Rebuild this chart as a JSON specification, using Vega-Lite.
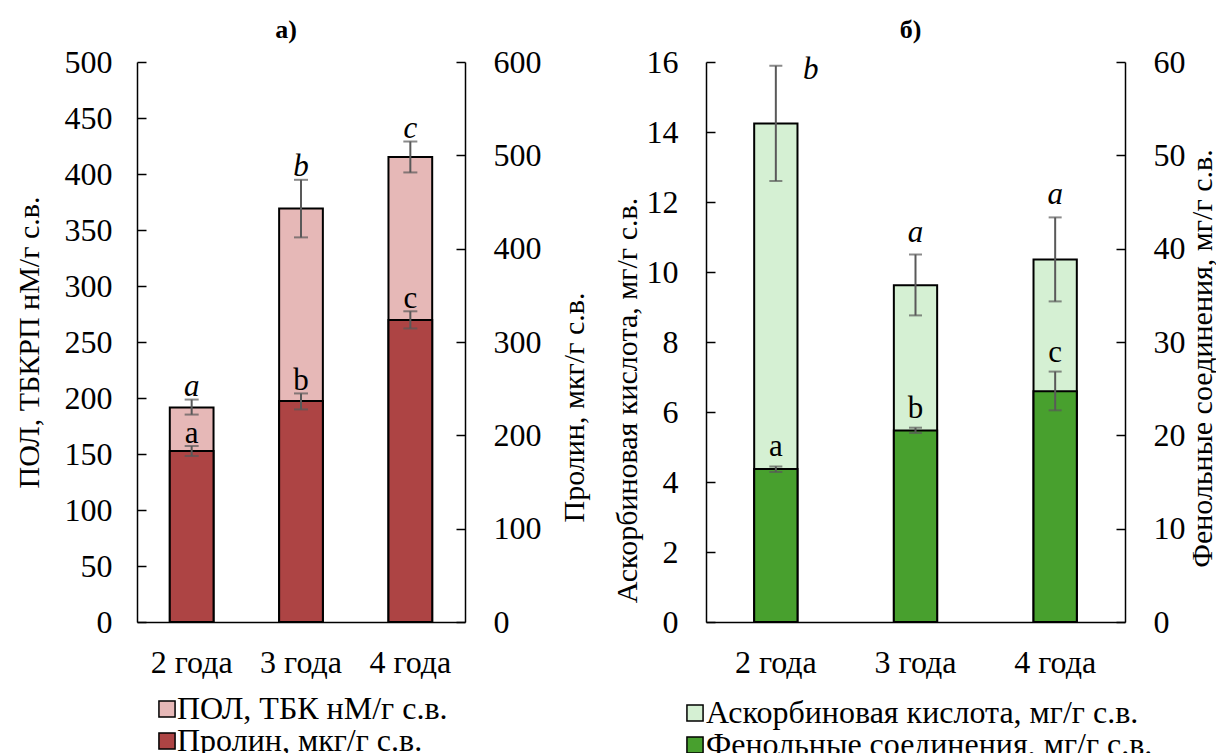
{
  "$schema": "https://vega.github.io/schema/vega-lite/v6.json",
  "autosize": {"type": "pad"},
  "padding": {"left": 14, "top": 17, "right": 0, "bottom": 0},
  "background": "white",
  "config": {
    "font": "Liberation Serif",
    "view": {"stroke": null},
    "style": {"guide-label": {"font": "Liberation Serif"}, "guide-title": {"font": "Liberation Serif"}, "group-title": {"font": "Liberation Serif"}},
    "axis": {"labelFont": "Liberation Serif", "titleFont": "Liberation Serif", "labelFontSize": 32, "titleFontSize": 30, "titleFontWeight": "normal", "labelColor": "black", "titleColor": "black", "domainColor": "black", "tickColor": "black", "domainWidth": 1.5, "tickWidth": 1.5, "grid": false},
    "legend": {"labelFont": "Liberation Serif", "labelFontSize": 32, "labelColor": "black", "labelLimit": 600},
    "title": {"font": "Liberation Serif", "fontSize": 26, "fontWeight": "bold", "color": "black"}
  },
  "datasets": {
    "a": [
      {"year": "2 года", "series": "ПОЛ, ТБК нМ/г с.в.", "value": 191.5, "lo": 185.2, "hi": 198.6, "letter": "a"},
      {"year": "3 года", "series": "ПОЛ, ТБК нМ/г с.в.", "value": 369.3, "lo": 343.4, "hi": 394.8, "letter": "b"},
      {"year": "4 года", "series": "ПОЛ, ТБК нМ/г с.в.", "value": 415.1, "lo": 401.4, "hi": 429.0, "letter": "c"},
      {"year": "2 года", "series": "Пролин, мкг/г с.в.", "value": 183.2, "lo": 177.9, "hi": 188.6, "letter": "a"},
      {"year": "3 года", "series": "Пролин, мкг/г с.в.", "value": 236.7, "lo": 227.8, "hi": 244.9, "letter": "b"},
      {"year": "4 года", "series": "Пролин, мкг/г с.в.", "value": 323.7, "lo": 314.5, "hi": 332.9, "letter": "c"}
    ],
    "b": [
      {"year": "2 года", "series": "Аскорбиновая кислота, мг/г с.в.", "value": 14.24, "lo": 12.60, "hi": 15.89, "letter": "b"},
      {"year": "3 года", "series": "Аскорбиновая кислота, мг/г с.в.", "value": 9.62, "lo": 8.76, "hi": 10.50, "letter": "a"},
      {"year": "4 года", "series": "Аскорбиновая кислота, мг/г с.в.", "value": 10.36, "lo": 9.16, "hi": 11.56, "letter": "a"},
      {"year": "2 года", "series": "Фенольные соединения, мг/г с.в.", "value": 16.39, "lo": 16.07, "hi": 16.67, "letter": "a"},
      {"year": "3 года", "series": "Фенольные соединения, мг/г с.в.", "value": 20.53, "lo": 20.25, "hi": 20.82, "letter": "b"},
      {"year": "4 года", "series": "Фенольные соединения, мг/г с.в.", "value": 24.72, "lo": 22.68, "hi": 26.83, "letter": "c"}
    ]
  },
  "hconcat": [
    {
      "width": 328,
      "height": 560,
      "title": {"text": "а)", "offset": 3, "dx": -15, "font": "Liberation Serif"},
      "data": {"name": "a"},
      "encoding": {
        "x": {"field": "year", "type": "nominal", "sort": ["2 года", "3 года", "4 года"],
              "scale": {"paddingInner": 0.6, "paddingOuter": 0.3},
              "axis": {"title": null, "ticks": false, "labelAngle": 0, "labelPadding": 25, "labelFont": "Liberation Serif"}}
      },
      "layer": [
        {
          "transform": [{"filter": "datum.series == 'ПОЛ, ТБК нМ/г с.в.'"}],
          "layer": [
            {
              "mark": {"type": "bar", "stroke": "black", "strokeWidth": 2},
              "encoding": {
                "y": {"field": "value", "type": "quantitative", "scale": {"domain": [0, 500], "nice": false, "zero": true},
                      "axis": {"orient": "left", "values": [0, 50, 100, 150, 200, 250, 300, 350, 400, 450, 500], "title": "ПОЛ, ТБКРП нМ/г с.в.", "labelFont": "Liberation Serif", "titleFont": "Liberation Serif", "tickSize": -9, "labelPadding": 34, "titlePadding": 20}},
                "color": {"field": "series", "type": "nominal",
                          "scale": {"domain": ["ПОЛ, ТБК нМ/г с.в.", "Пролин, мкг/г с.в."], "range": ["#e6b8b7", "#ad4444"]},
                          "legend": {"orient": "none", "legendX": 14, "legendY": 631, "title": null, "labelFont": "Liberation Serif", "symbolType": "square", "symbolSize": 260, "symbolStrokeColor": "black", "symbolStrokeWidth": 1.5, "symbolOpacity": 1, "rowPadding": -8, "labelOffset": -6}}
              }
            },
            {
              "mark": {"type": "rule", "color": "#595959", "strokeWidth": 2},
              "encoding": {"y": {"field": "lo", "type": "quantitative"}, "y2": {"field": "hi"}}
            },
            {
              "mark": {"type": "tick", "color": "#595959", "thickness": 2, "size": 14},
              "encoding": {"y": {"field": "lo", "type": "quantitative"}}
            },
            {
              "mark": {"type": "tick", "color": "#595959", "thickness": 2, "size": 14},
              "encoding": {"y": {"field": "hi", "type": "quantitative"}}
            },
            {
              "mark": {"type": "text", "font": "Liberation Serif", "fontSize": 31, "fontStyle": "italic", "baseline": "alphabetic", "dy": -4, "color": "black"},
              "encoding": {"y": {"field": "hi", "type": "quantitative"}, "text": {"field": "letter"}}
            }
          ]
        },
        {
          "transform": [{"filter": "datum.series == 'Пролин, мкг/г с.в.'"}],
          "layer": [
            {
              "mark": {"type": "bar", "stroke": "black", "strokeWidth": 2},
              "encoding": {
                "y": {"field": "value", "type": "quantitative", "scale": {"domain": [0, 600], "nice": false, "zero": true},
                      "axis": {"orient": "right", "values": [0, 100, 200, 300, 400, 500, 600], "title": "Пролин, мкг/г с.в.", "labelFont": "Liberation Serif", "titleFont": "Liberation Serif", "titleAngle": -90, "titleY": 345, "tickSize": -9, "labelPadding": 37, "titlePadding": 48}},
                "color": {"field": "series", "type": "nominal"}
              }
            },
            {
              "mark": {"type": "rule", "color": "#595959", "strokeWidth": 2},
              "encoding": {"y": {"field": "lo", "type": "quantitative"}, "y2": {"field": "hi"}}
            },
            {
              "mark": {"type": "tick", "color": "#595959", "thickness": 2, "size": 14},
              "encoding": {"y": {"field": "lo", "type": "quantitative"}}
            },
            {
              "mark": {"type": "tick", "color": "#595959", "thickness": 2, "size": 14},
              "encoding": {"y": {"field": "hi", "type": "quantitative"}}
            },
            {
              "mark": {"type": "text", "font": "Liberation Serif", "fontSize": 31, "baseline": "alphabetic", "dy": -3, "color": "black"},
              "encoding": {"y": {"field": "hi", "type": "quantitative"}, "text": {"field": "letter"}}
            }
          ]
        }
      ],
      "resolve": {"scale": {"y": "independent"}, "axis": {"y": "independent"}}
    },
    {
      "width": 419,
      "height": 560,
      "title": {"text": "б)", "offset": 3, "dx": -5, "font": "Liberation Serif"},
      "data": {"name": "b"},
      "encoding": {
        "x": {"field": "year", "type": "nominal", "sort": ["2 года", "3 года", "4 года"],
              "scale": {"paddingInner": 0.69, "paddingOuter": 0.345},
              "axis": {"title": null, "ticks": false, "labelAngle": 0, "labelPadding": 25, "labelFont": "Liberation Serif"}}
      },
      "layer": [
        {
          "transform": [{"filter": "datum.series == 'Аскорбиновая кислота, мг/г с.в.'"}],
          "layer": [
            {
              "mark": {"type": "bar", "stroke": "black", "strokeWidth": 2},
              "encoding": {
                "y": {"field": "value", "type": "quantitative", "scale": {"domain": [0, 16], "nice": false, "zero": true},
                      "axis": {"orient": "left", "values": [0, 2, 4, 6, 8, 10, 12, 14, 16], "title": "Аскорбиновая кислота, мг/г с.в.", "labelFont": "Liberation Serif", "titleFont": "Liberation Serif", "titleY": 338, "tickSize": -9, "labelPadding": 37, "titlePadding": 4}},
                "color": {"field": "series", "type": "nominal",
                          "scale": {"domain": ["Аскорбиновая кислота, мг/г с.в.", "Фенольные соединения, мг/г с.в."], "range": ["#d5f0d3", "#48a02e"]},
                          "legend": {"orient": "none", "legendX": -27, "legendY": 635, "title": null, "labelFont": "Liberation Serif", "symbolType": "square", "symbolSize": 260, "symbolStrokeColor": "black", "symbolStrokeWidth": 1.5, "symbolOpacity": 1, "rowPadding": -2, "labelOffset": -5}}
              }
            },
            {
              "mark": {"type": "rule", "color": "#595959", "strokeWidth": 2},
              "encoding": {"y": {"field": "lo", "type": "quantitative"}, "y2": {"field": "hi"}}
            },
            {
              "mark": {"type": "tick", "color": "#595959", "thickness": 2, "size": 13},
              "encoding": {"y": {"field": "lo", "type": "quantitative"}}
            },
            {
              "mark": {"type": "tick", "color": "#595959", "thickness": 2, "size": 13},
              "encoding": {"y": {"field": "hi", "type": "quantitative"}}
            },
            {
              "transform": [{"filter": "datum.year != '2 года'"}],
              "mark": {"type": "text", "font": "Liberation Serif", "fontSize": 31, "fontStyle": "italic", "baseline": "alphabetic", "dy": -13, "color": "black"},
              "encoding": {"y": {"field": "hi", "type": "quantitative"}, "text": {"field": "letter"}}
            },
            {
              "transform": [{"filter": "datum.year == '2 года'"}],
              "mark": {"type": "text", "font": "Liberation Serif", "fontSize": 31, "fontStyle": "italic", "baseline": "middle", "dx": 35, "dy": 4, "color": "black"},
              "encoding": {"y": {"field": "hi", "type": "quantitative"}, "text": {"field": "letter"}}
            }
          ]
        },
        {
          "transform": [{"filter": "datum.series == 'Фенольные соединения, мг/г с.в.'"}],
          "layer": [
            {
              "mark": {"type": "bar", "stroke": "black", "strokeWidth": 2},
              "encoding": {
                "y": {"field": "value", "type": "quantitative", "scale": {"domain": [0, 60], "nice": false, "zero": true},
                      "axis": {"orient": "right", "values": [0, 10, 20, 30, 40, 50, 60], "title": "Фенольные соединения, мг/г с.в.", "labelFont": "Liberation Serif", "titleFont": "Liberation Serif", "titleAngle": -90, "titleY": 296, "tickSize": -9, "labelPadding": 37, "titlePadding": 32}},
                "color": {"field": "series", "type": "nominal"}
              }
            },
            {
              "mark": {"type": "rule", "color": "#595959", "strokeWidth": 2},
              "encoding": {"y": {"field": "lo", "type": "quantitative"}, "y2": {"field": "hi"}}
            },
            {
              "mark": {"type": "tick", "color": "#595959", "thickness": 2, "size": 13},
              "encoding": {"y": {"field": "lo", "type": "quantitative"}}
            },
            {
              "mark": {"type": "tick", "color": "#595959", "thickness": 2, "size": 13},
              "encoding": {"y": {"field": "hi", "type": "quantitative"}}
            },
            {
              "mark": {"type": "text", "font": "Liberation Serif", "fontSize": 31, "baseline": "alphabetic", "dy": -10, "color": "black"},
              "encoding": {"y": {"field": "hi", "type": "quantitative"}, "text": {"field": "letter"}}
            }
          ]
        }
      ],
      "resolve": {"scale": {"y": "independent"}, "axis": {"y": "independent"}}
    }
  ],
  "spacing": 241,
  "bounds": "flush",
  "resolve": {"scale": {"color": "independent", "x": "independent"}, "legend": {"color": "independent"}}
}
